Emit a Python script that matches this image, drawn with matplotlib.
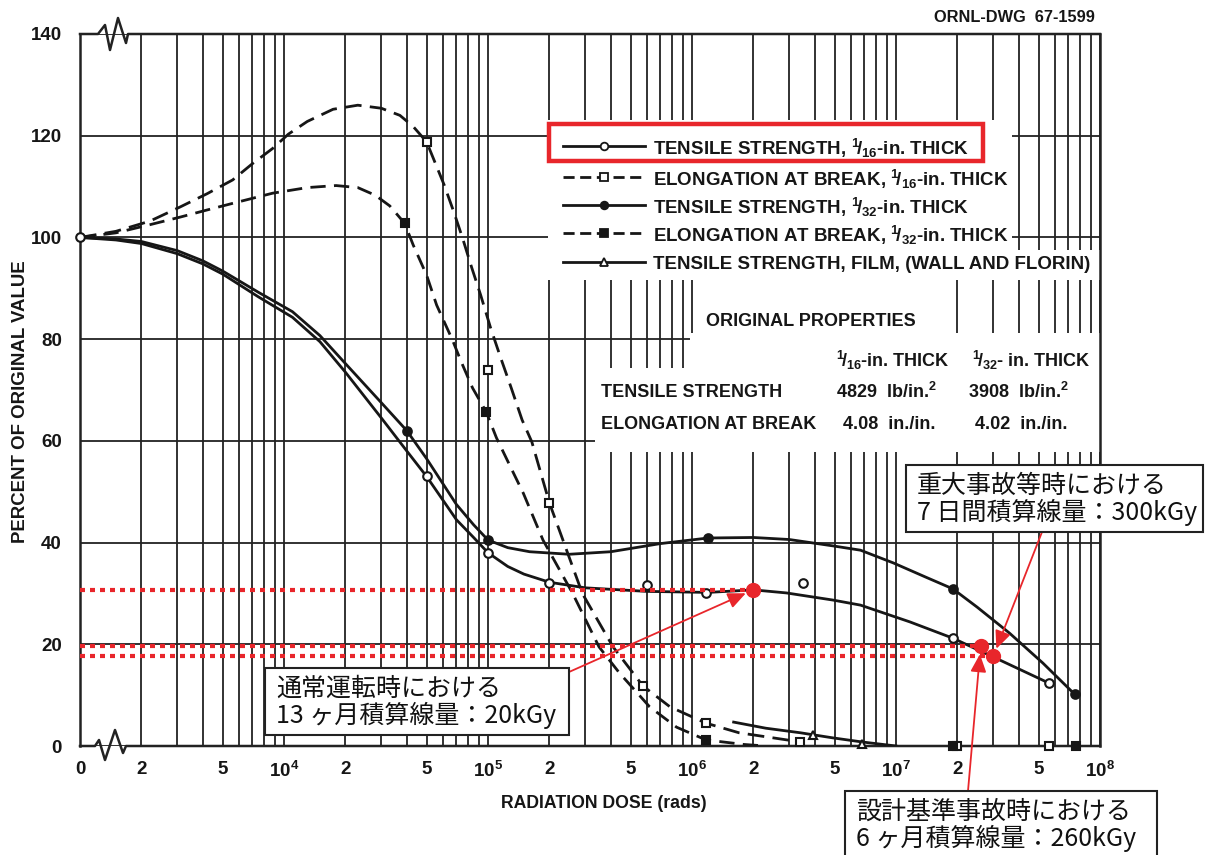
import matplotlib
matplotlib.use("Agg")
import matplotlib.pyplot as plt
from matplotlib.lines import Line2D
from matplotlib.patches import Rectangle
from matplotlib.ticker import FixedLocator, LogLocator, NullFormatter

plt.rcParams['font.family'] = ['Liberation Sans', 'DejaVu Sans']
plt.rcParams['font.weight'] = 'bold'
plt.rcParams['mathtext.fontset'] = 'custom'
plt.rcParams['mathtext.rm'] = 'Liberation Sans:bold'
plt.rcParams['mathtext.it'] = 'Liberation Sans:bold'
plt.rcParams['mathtext.bf'] = 'Liberation Sans:bold'

W, H = 1231, 855
RED = '#e8262b'
INK = '#161616'
JP = ['Noto Sans CJK JP', 'DejaVu Sans']

# tensile strength, 1/16-in. thick (solid, open circles)
ts16_dose = [1e3, 1.5e3, 2e3, 3e3, 4e3, 5e3, 7.5e3, 1.1e4, 1.5e4, 2e4, 3e4, 4e4, 5e4, 7e4, 8.5e4,
             1e5, 1.25e5, 1.5e5, 2e5, 3e5, 6e5, 1.2e6, 2e6, 2.9e6, 4.9e6, 6.7e6, 1.17e7, 1.9e7,
             3e7, 5.6e7]
ts16_val = [100, 99.5, 98.8, 96.8, 94.8, 92.8, 88.3, 84.3, 79.5, 73.5, 64.5, 58, 53, 44.5, 41,
            38, 35.3, 33.8, 32.2, 31.1, 30.4, 30.2, 30.7, 30.1, 28.7, 27.7, 24.4, 21.2,
            17.5, 12.4]
ts16_pt_dose = [1e3, 5e4, 1e5, 2e5, 6e5, 1.17e6, 3.5e6, 1.9e7, 5.6e7]
ts16_pt_val = [100, 53, 38, 32, 31.7, 30.1, 32, 21.2, 12.4]

# tensile strength, 1/32-in. thick (solid, filled circles)
ts32_dose = [1e3, 1.5e3, 2e3, 3e3, 4e3, 5e3, 7.5e3, 1.1e4, 1.5e4, 2e4, 3e4, 4e4, 5e4, 7e4, 8.5e4,
             1e5, 1.25e5, 1.6e5, 2.5e5, 4e5, 7e5, 1.2e6, 2e6, 3e6, 5e6, 6.7e6, 9.7e6, 1.4e7,
             1.9e7, 2.5e7, 3.6e7, 5.25e7, 7.5e7]
ts32_val = [100, 99.7, 99.2, 97.4, 95.4, 93.4, 89.2, 85.4, 80.7, 75.2, 67.5, 62, 56.5, 47.5, 43.5,
            40.5, 39, 38.2, 37.7, 38.2, 39.8, 40.9, 41, 40.6, 39.3, 38.5, 36, 33.2,
            30.9, 27.3, 22.2, 16.3, 10.2]
ts32_pt_dose = [4e4, 1e5, 1.2e6, 1.9e7, 7.5e7]
ts32_pt_val = [62, 40.5, 40.9, 30.9, 10.2]

# elongation at break, 1/16-in. thick (dashed, open squares)
el16_dose = [1e3, 1.5e3, 2.2e3, 3.1e3, 4.2e3, 5.6e3, 7e3, 8.8e3, 1.05e4, 1.3e4, 1.74e4, 2.3e4,
             3e4, 3.7e4, 4.3e4, 5e4, 6.1e4, 6.8e4, 7.5e4, 8.3e4, 9.2e4, 1.03e5, 1.15e5, 1.3e5,
             1.47e5, 1.64e5, 2e5, 2.9e5, 4.1e5, 5.75e5, 7.8e5, 1.17e6, 1.7e6, 3.4e6]
el16_val = [100, 101.2, 103.2, 106, 108.6, 111.3, 114.5, 117.5, 120.3, 122.8, 125.2, 126,
            125.4, 124, 121.8, 118.8, 110.3, 105, 99.9, 94.2, 88.7, 82.2, 76.5, 70.4,
            64.1, 59.8, 47.8, 30, 19.5, 11.8, 7.7, 4.5, 2.6, 0.8]
el16_pt_dose = [5e4, 1e5, 2e5, 5.75e5, 1.17e6, 3.4e6, 2e7, 5.6e7]
el16_pt_val = [118.8, 74, 47.8, 11.8, 4.5, 0.8, 0, 0]

# elongation at break, 1/32-in. thick (dashed, filled squares)
el32_dose = [1e3, 1.5e3, 2.2e3, 3.1e3, 4.2e3, 5.6e3, 8.8e3, 1.3e4, 1.8e4, 2.3e4, 2.8e4, 3.3e4,
             3.9e4, 4.3e4, 5e4, 5.6e4, 6.7e4, 7.4e4, 8.4e4, 9.8e4, 1.1e5, 1.31e5, 1.49e5, 1.86e5,
             2.6e5, 3.5e5, 4.4e5, 6.2e5, 8.4e5, 1.17e6, 1.8e6, 2.3e6]
el32_val = [100, 100.9, 102.5, 104, 105.4, 106.7, 108.7, 109.8, 110.2, 109.8, 108.3, 106.2,
            102.8, 98.5, 92.6, 86.7, 79.8, 75.5, 70.4, 65.7, 60.6, 54.3, 49.7, 40.5,
            30, 19.5, 14.4, 7.7, 3.7, 1.2, 0.3, 0]
el32_pt_dose = [3.9e4, 9.8e4, 1.17e6, 1.9e7, 7.6e7]
el32_pt_val = [102.8, 65.7, 1.2, 0, 0]

# tensile strength, film (Wall and Florin) (solid, open triangles)
film_dose = [1.6e6, 2.3e6, 3.4e6, 4.9e6, 6.8e6, 1e7]
film_val = [4.7, 3.5, 2.6, 1.6, 0.8, 0]
film_pt_dose = [3.9e6, 6.8e6]
film_pt_val = [2.2, 0.4]

# dose marks added in red (rad): 20 kGy, 260 kGy, 300 kGy
red_dose = [2e6, 2.6e7, 3e7]
red_val = [30.7, 19.7, 17.6]
red_notes = ['通常運転時における\n13 ヶ月積算線量：20kGy',
             '設計基準事故時における\n6 ヶ月積算線量：260kGy',
             '重大事故等時における\n7 日間積算線量：300kGy']

xtick_pos = [1e3, 2e3, 5e3, 1e4, 2e4, 5e4, 1e5, 2e5, 5e5, 1e6, 2e6, 5e6, 1e7, 2e7, 5e7, 1e8]
xtick_lab = ['0', '2', '5', '$10^4$', '2', '5', '$10^5$', '2', '5', '$10^6$', '2', '5',
             '$10^7$', '2', '5', '$10^8$']
ytick_pos = [0, 20, 40, 60, 80, 100, 120, 140]

legend_labels = ['TENSILE STRENGTH, $^1\\!/_{16}$-in. THICK',
                 'ELONGATION AT BREAK, $^1\\!/_{16}$-in. THICK',
                 'TENSILE STRENGTH, $^1\\!/_{32}$-in. THICK',
                 'ELONGATION AT BREAK, $^1\\!/_{32}$-in. THICK',
                 'TENSILE STRENGTH, FILM, (WALL AND FLORIN)']


def fx(px):
    return px / W


def fy(py):
    return 1 - py / H


fig = plt.figure(figsize=(W / 100, H / 100), dpi=100)
ax = fig.add_axes([fx(80), fy(746), fx(1100) - fx(80), fy(34) - fy(746)])
ax.set_xscale('log')
ax.set_xlim(1e3, 1e8)
ax.set_ylim(0, 140)

ax.xaxis.set_major_locator(FixedLocator(xtick_pos))
ax.set_xticklabels(xtick_lab)
ax.xaxis.set_minor_locator(LogLocator(base=10, subs=range(2, 10)))
ax.xaxis.set_minor_formatter(NullFormatter())
ax.set_yticks(ytick_pos)
ax.tick_params(which='both', length=0, labelsize=13.5, colors=INK)
ax.tick_params(axis='y', pad=13)
ax.tick_params(axis='x', pad=11)
ax.set_axisbelow(True)
ax.grid(True, which='both', axis='x', color='#222', lw=1.3)
ax.grid(True, which='major', axis='y', color='#222', lw=1.3)

for s in ['top', 'bottom']:
    ax.spines[s].set_visible(False)
for s in ['left', 'right']:
    ax.spines[s].set_linewidth(1.8)
    ax.spines[s].set_color('#222')

# axis lines with the break marks
def ax_pts(pts):
    return [(p[0] - 80) / 1020 for p in pts], [(746 - p[1]) / 712 for p in pts]

top_x, top_y = ax_pts([(80, 34), (98, 34), (105, 25), (110, 50), (118, 18), (126, 43), (128, 34), (1100, 34)])
bot_x, bot_y = ax_pts([(80, 746), (95, 746), (99, 740), (105, 760), (115, 730), (123, 753), (126, 746), (1100, 746)])
ax.plot(top_x, top_y, color='#222', lw=1.8, transform=ax.transAxes, clip_on=False, zorder=3)
ax.plot(bot_x, bot_y, color='#222', lw=1.8, transform=ax.transAxes, clip_on=False, zorder=3)

# blank areas behind legend and table (pixel boxes)
blanks = [(548, 120, 1012, 280), (1012, 250, 1100, 280), (695, 280, 945, 333),
          (690, 333, 1100, 368), (595, 368, 1100, 452)]
for x0, y0, x1, y1 in blanks:
    ax.add_artist(Rectangle((fx(x0), fy(y1)), fx(x1) - fx(x0), fy(y0) - fy(y1),
                            transform=fig.transFigure, fc='white', ec='none', zorder=1.5))

styles = [
    dict(ls='-', marker='o', mfc='white'),
    dict(ls=(0, (6, 3)), marker='s', mfc='white'),
    dict(ls='-', marker='o', mfc=INK),
    dict(ls=(0, (5.5, 3)), marker='s', mfc=INK),
    dict(ls='-', marker='^', mfc='white'),
]
curves = [(ts16_dose, ts16_val), (el16_dose, el16_val), (ts32_dose, ts32_val),
          (el32_dose, el32_val), (film_dose, film_val)]
points = [(ts16_pt_dose, ts16_pt_val), (el16_pt_dose, el16_pt_val), (ts32_pt_dose, ts32_pt_val),
          (el32_pt_dose, el32_pt_val), (film_pt_dose, film_pt_val)]

for (cx, cy), (px, py), st in zip(curves, points, styles):
    ax.plot(cx, cy, color=INK, lw=2, ls=st['ls'], zorder=3)
    ax.plot(px, py, ls='none', marker=st['marker'], ms=6.2, mfc=st['mfc'], mec=INK, mew=1.5,
            zorder=4, clip_on=False)

# legend rows drawn by hand so they keep the even spacing of the drawing
row_y = [146, 177, 205, 233, 262]
for yy, lab, st in zip(row_y, legend_labels, styles):
    ls = st['ls'] if st['ls'] == '-' else (0, (4, 2))
    fig.add_artist(Line2D([fx(563), fx(604), fx(645)], [fy(yy)] * 3, transform=fig.transFigure,
                          color=INK, lw=2, ls=ls, marker=st['marker'], markevery=[1], ms=5.5,
                          mfc=st['mfc'], mec=INK, mew=1.3, zorder=6))
    fig.text(fx(653), fy(yy), lab, fontsize=13.5, color=INK, va='center_baseline', zorder=6)

# red frame around the first legend entry
fig.add_artist(Rectangle((fx(549), fy(161)), fx(983) - fx(549), fy(124) - fy(161),
                         transform=fig.transFigure, fc='none', ec=RED, lw=3.2, zorder=6))

# original properties table
tk = dict(fontsize=13, color=INK, va='center_baseline', transform=fig.transFigure)
fig.text(fx(706), fy(320), 'ORIGINAL PROPERTIES', **tk)
fig.text(fx(836), fy(358), '$^1\\!/_{16}$-in. THICK', **tk)
fig.text(fx(972), fy(358), '$^1\\!/_{32}$- in. THICK', **tk)
fig.text(fx(601), fy(390), 'TENSILE STRENGTH', **tk)
fig.text(fx(836), fy(390), '4829  lb/in.$^2$', **tk)
fig.text(fx(968), fy(390), '3908  lb/in.$^2$', **tk)
fig.text(fx(601), fy(422), 'ELONGATION AT BREAK', **tk)
fig.text(fx(843), fy(422), '4.08  in./in.', **tk)
fig.text(fx(975), fy(422), '4.02  in./in.', **tk)

fig.text(fx(1095), fy(18), 'ORNL-DWG  67-1599', fontsize=11.8, color=INK, ha='right', va='center')
fig.text(fx(21), fy(402), 'PERCENT OF ORIGINAL VALUE', fontsize=13.4, color=INK, rotation=90,
         ha='center', va='center')
fig.text(fx(604), fy(803), 'RADIATION DOSE (rads)', fontsize=12.7, color=INK, ha='center', va='center')

# red reference lines, points, arrows and notes
ax.hlines(red_val, 1e3, red_dose, colors=RED, linestyles=(0, (1.2, 1.2)), lw=3, zorder=5)
ax.plot(red_dose, red_val, ls='none', marker='o', ms=10, color=RED, zorder=6)

note_boxes = [(265, 668, 569, 735), (845, 791, 1157, 870), (906, 465, 1203, 532)]
arrow_tails = [(569, 672), (968, 791), (1042, 532)]
for d, v, txt, box, tail in zip(red_dose, red_val, red_notes, note_boxes, arrow_tails):
    ax.annotate('', xy=(d, v), xycoords='data', xytext=(tail[0], H - tail[1]),
                textcoords='figure pixels',
                arrowprops=dict(arrowstyle='-|>,head_length=0.9,head_width=0.4', color=RED, lw=1.3,
                                shrinkA=0, shrinkB=6, mutation_scale=12), zorder=6)
    x0, y0, x1, y1 = box
    fig.add_artist(Rectangle((fx(x0), fy(y1)), fx(x1) - fx(x0), fy(y0) - fy(y1),
                             transform=fig.transFigure, fc='white', ec='#222', lw=1.5, zorder=7))
    fig.text(fx(x0 + 11), fy(y0 + 34), txt, family=JP, fontsize=18, fontweight='normal',
             color='#111', ha='left', va='center', linespacing=1.0, zorder=8)

fig.savefig('out.png', dpi=100)
